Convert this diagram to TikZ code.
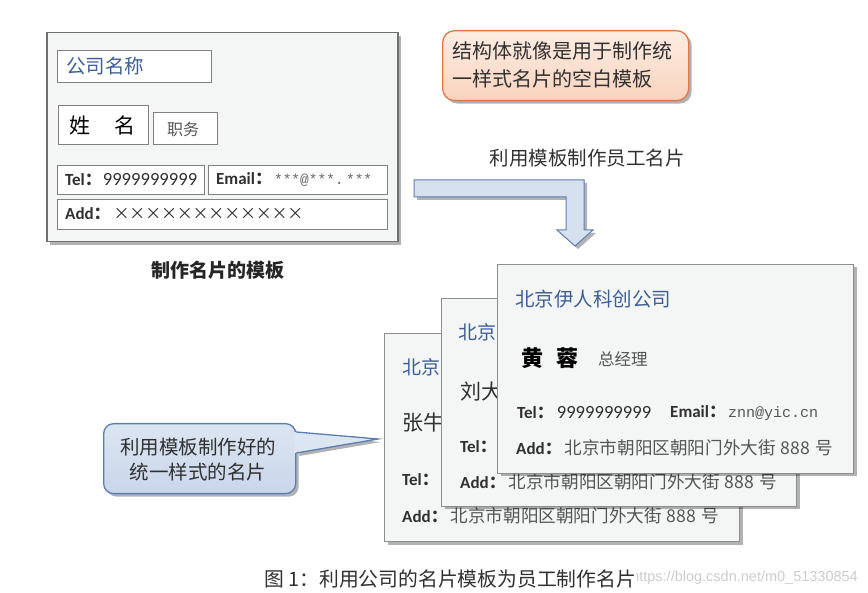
\documentclass[tikz,border=0pt]{standalone}
\usepackage{fontspec}
\setmainfont{Noto Sans CJK SC}
\newfontfamily\lat{Carlito}
\newfontfamily\mono{Liberation Mono}
\newfontfamily\arial{Liberation Sans}
\usetikzlibrary{shadows,calc}
\definecolor{cblue}{HTML}{3D5E96}
\definecolor{cdark}{HTML}{303030}
\definecolor{cgray}{HTML}{555555}
\definecolor{cardfill}{HTML}{F4F5F5}
\definecolor{cardline}{HTML}{707070}
\definecolor{boxline}{HTML}{808080}
\definecolor{oline}{HTML}{E0774A}
\definecolor{otop}{HTML}{FDEDE3}
\definecolor{obot}{HTML}{F9D3BE}
\definecolor{bline}{HTML}{5B7DB3}
\definecolor{btop}{HTML}{DCE5F2}
\definecolor{bbot}{HTML}{C9D6EA}
\definecolor{afill}{HTML}{D7E0EE}
\newcommand\myfs[1]{\fontsize{#1pt}{#1pt}\selectfont}
\newcommand\lab[1]{{\lat\bfseries #1}{\bfseries ：}}
\newcommand\xx{\makebox[15.8pt]{×}}
\newcommand\addr{\hspace{3pt}{\myfs{17.6}\color{cgray}北京市朝阳区朝阳门外大街\hspace{5pt}888\hspace{5pt}号}}
\begin{document}
\begin{tikzpicture}[x=1pt,y=-1pt,
  myshadow/.style={drop shadow={shadow xshift=3pt,shadow yshift=-3pt,opacity=.3,fill=black}},
  tcard/.style={draw=cardline,line width=1.5pt,fill=cardfill,myshadow,inner sep=0,anchor=north west},
  tbox/.style={draw=boxline,line width=1.1pt,fill=white,inner sep=0,anchor=north west},
  card/.style={draw=cardline!80,line width=1pt,fill=cardfill,myshadow,inner sep=0,anchor=north west,
    minimum width=355pt,minimum height=208pt},
  txt/.style={inner sep=0,anchor=west,text=cdark},
  val/.style={txt,text=cgray},
  co/.style={txt,text=cblue},
]
\useasboundingbox (0,0) rectangle (868,593);

% ---------- template card ----------
\node[tcard,minimum width=351pt,minimum height=209pt] (tpl) at (46,32) {};
\node[tbox,minimum width=154pt,minimum height=32pt] (bcname) at (57,50) {};
\node[tbox,minimum width=90pt,minimum height=39pt] (bname) at (58,105) {};
\node[tbox,minimum width=64pt,minimum height=32pt] (btitle) at (153,112) {};
\node[tbox,minimum width=147pt,minimum height=29pt] (btel) at (57,165) {};
\node[tbox,minimum width=179pt,minimum height=29pt] (bemail) at (208,165) {};
\node[tbox,minimum width=330pt,minimum height=30pt] (badd) at (57,199) {};
\node[co] (tcname) at (66,66) {\myfs{19.5}公司名称};
\node[txt,text=black] (tname) at (69,125) {\myfs{21}姓\hspace{24pt}名};
\node[val] (ttitle) at (167,129) {\myfs{16}职务};
\node[txt] (ttel) at (65,180) {\myfs{17}\lab{Tel}\hspace{1pt}{\lat\myfs{18.6}9999999999}};
\node[txt] (temail) at (216,180) {\myfs{17}\lab{Email}\hspace{2pt}{\mono\myfs{14.5}\color{black!60}***@***.\,***}};
\node[txt] (tadd) at (65,214) {\myfs{17}\lab{Add}\hspace{3pt}\myfs{16}\xx\xx\xx\xx\xx\xx\xx\xx\xx\xx\xx\xx};
\node[txt,anchor=center,text=black!85] (tcap) at (218,270) {\myfs{19}\bfseries 制作名片的模板};

% ---------- orange note ----------
\node[draw=oline,line width=1.3pt,rounded corners=12pt,top color=otop,bottom color=obot,myshadow,
  anchor=north west,minimum width=246pt,minimum height=70pt,inner sep=0] (onote) at (442,30) {};
\node[txt,align=left,text=cdark,font=\fontsize{20pt}{28pt}\selectfont] (otext) at (452,65) {结构体就像是用于制作统\\一样式名片的空白模板};

% ---------- block arrow ----------
\node[txt,anchor=center,text=cdark] (alabel) at (587,158) {\myfs{19.5}利用模板制作员工名片};
\coordinate (a1) at (414,180);
\coordinate (a2) at (584,180);
\coordinate (a3) at (584,230);
\coordinate (a4) at (593,230);
\coordinate (atip) at (575,246);
\coordinate (a5) at (557,230);
\coordinate (a6) at (566,230);
\coordinate (a7) at (566,197);
\coordinate (a8) at (414,197);
\draw[draw=bline,line width=1pt,fill=afill,myshadow,line join=miter]
  (a1) -- (a2) -- (a3) -- (a4) -- (atip) -- (a5) -- (a6) -- (a7) -- (a8) -- cycle;

% ---------- card 1 (back) ----------
\node[card] (card1) at (384,333) {};
\node[co] (c1co) at (402,367) {\myfs{19}北京};
\node[txt] (c1name) at (402,423) {\myfs{21}张牛};
\node[txt] (c1tel) at (402,480) {\myfs{17}\lab{Tel}};
\node[txt] (c1add) at (402,516) {\myfs{17}\lab{Add}\addr};

% ---------- card 2 ----------
\node[card] (card2) at (441,298) {};
\node[co] (c2co) at (458,332) {\myfs{19}北京};
\node[txt] (c2name) at (460,392) {\myfs{21}刘大};
\node[txt] (c2tel) at (460,447) {\myfs{17}\lab{Tel}};
\node[txt] (c2add) at (460,482) {\myfs{17}\lab{Add}\addr};

% ---------- card 3 (front) ----------
\node[card,minimum width=356pt,minimum height=209pt] (card3) at (497,264) {};
\node[co] (c3co) at (515,299) {\myfs{19.5}北京伊人科创公司};
\node[txt,text=black] (c3name) at (521,358) {\myfs{22}\bfseries 黄\hspace{13pt}蓉};
\node[val] (c3title) at (598,359) {\myfs{16.5}总经理};
\node[txt] (c3tel) at (517,413) {\myfs{17}\lab{Tel}\hspace{3pt}{\lat\myfs{18.6}9999999999}};
\node[txt] (c3email) at (670,413) {\myfs{17}\lab{Email}\hspace{2pt}{\mono\myfs{15}\color{cgray}znn@yic.cn}};
\node[txt] (c3add) at (516,448) {\myfs{17}\lab{Add}\addr};

% ---------- blue callout ----------
\node[draw=bline,line width=1.3pt,rounded corners=10pt,top color=btop,bottom color=bbot,myshadow,
  anchor=north west,minimum width=192pt,minimum height=70pt,inner sep=0] (bnote) at (103,423) {};
\coordinate (bp1) at ($(bnote.north east)+(0,9)$);
\coordinate (bp2) at ($(bnote.north east)+(0,30)$);
\coordinate (btip) at (378,439);
\fill[black,opacity=.3] ($(bp1)+(3,3)$) -- ($(btip)+(3,3)$) -- ($(bp2)+(3,3)$) -- cycle;
\fill[btop] ($(bp1)+(-2,0)$) -- (btip) -- ($(bp2)+(-2,0)$) -- cycle;
\draw[bline,line width=1.3pt,line join=miter] (bp1) -- (btip) -- (bp2);
\node[txt,anchor=center,align=center,text=cdark,font=\fontsize{19.5pt}{25pt}\selectfont] (btext) at (198,460)
  {利用模板制作好的\\统一样式的名片};

% ---------- caption ----------
\node[inner sep=0,anchor=east,text=black!20] (wm) at (858,578) {\arial\myfs{14.5}https://blog.csdn.net/m0\_51330854};
\node[txt,fill=white,text=cdark] (cap) at (264,579) {\myfs{19.8}图 1：利用公司的名片模板为员工制作名片};
\end{tikzpicture}
\end{document}
